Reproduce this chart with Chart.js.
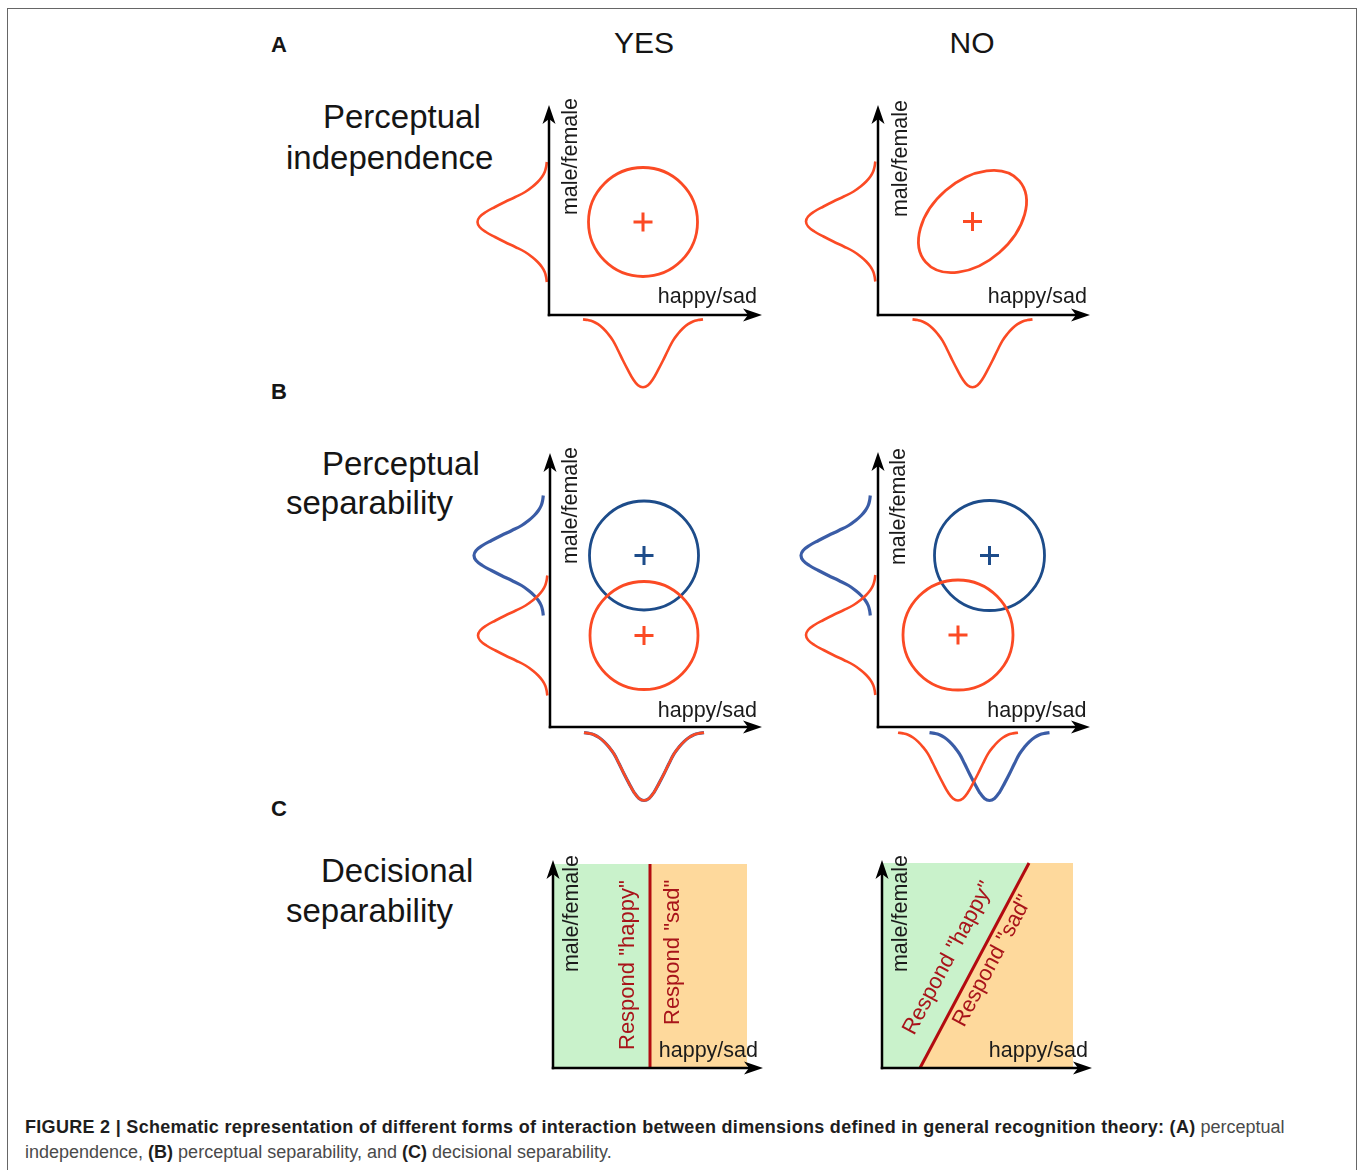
<!DOCTYPE html>
<html lang="en">
<head>
<meta charset="UTF-8">
<title>General recognition theory - schematic</title>
<script src="https://cdn.jsdelivr.net/npm/chart.js"></script>
<style>
  html, body { margin: 0; padding: 0; overflow: hidden; background: #fff; }
  body { width: 1357px; height: 1170px; position: relative; font-family: "Liberation Sans", Arial, sans-serif; color: #151515; }
  #frame { position: absolute; left: 7px; top: 8px; width: 1350px; height: 1200px; box-sizing: border-box; border: 1.5px solid #666; }
  .lbl { position: absolute; line-height: 1; white-space: nowrap; }
  .letter { font-size: 22px; font-weight: bold; left: 271px; }
  .head { font-size: 30px; width: 200px; text-align: center; }
  .row { font-size: 33px; }
  canvas { position: absolute; }
  #caption { position: absolute; left: 25px; top: 1115px; font-size: 18px; line-height: 25px; color: #4a4a4a; white-space: nowrap; }
  #caption b { color: #1e1e1e; }
  #caption b.lead { letter-spacing: 0.3px; }
</style>
</head>
<body>
<div id="frame"></div>

<div class="lbl letter" style="top:34px">A</div>
<div class="lbl letter" style="top:381px">B</div>
<div class="lbl letter" style="top:798px">C</div>

<div class="lbl head" style="left:544px; top:28px">YES</div>
<div class="lbl head" style="left:872px; top:28px">NO</div>

<div class="lbl row" style="left:323px; top:100px">Perceptual</div>
<div class="lbl row" style="left:286px; top:141px">independence</div>
<div class="lbl row" style="left:322px; top:447px">Perceptual</div>
<div class="lbl row" style="left:286px; top:486px">separability</div>
<div class="lbl row" style="left:321px; top:854px">Decisional</div>
<div class="lbl row" style="left:286px; top:894px">separability</div>

<div id="caption"><b class="lead">FIGURE 2 | Schematic representation of different forms of interaction between dimensions defined in general recognition theory: (A)</b> perceptual<br>independence, <b>(B)</b> perceptual separability, and <b>(C)</b> decisional separability.</div>

<script>
// bell-shaped marginal: offset along the axis and share of the peak depth
const bellOffset = [-6, -5.5, -5, -4.5, -4, -3.5, -3, -2.5, -2, -1.5, -1, -0.5, 0, 0.5, 1, 1.5, 2, 2.5, 3, 3.5, 4, 4.5, 5, 5.5, 6];
const bellShape  = [0.01, 0.02, 0.04, 0.08, 0.14, 0.22, 0.32, 0.46, 0.61, 0.75, 0.88, 0.97, 1, 0.97, 0.88, 0.75, 0.61, 0.46, 0.32, 0.22, 0.14, 0.08, 0.04, 0.02, 0.01];

// perceptual distributions (panels A and B), in axis units
const distPanel   = ['aYes', 'aNo', 'bYes', 'bYes', 'bNo', 'bNo'];
const distTone    = ['red', 'red', 'blue', 'red', 'blue', 'red'];
const distMeanX   = [9.4, 9.45, 9.4, 9.4, 11.15, 8.0];
const distMeanY   = [9.3, 9.35, 17.15, 9.15, 17.15, 9.2];
const distMajor   = [5.45, 6.2, 5.45, 5.4, 5.5, 5.5];
const distMinor   = [5.45, 4.1, 5.45, 5.4, 5.5, 5.5];
const distTilt    = [0, 41, 0, 0, 0, 0];
const leftFootX   = [-0.15, -0.2, -0.6, -0.2, -0.7, -0.2];
const bottomFootY = [-0.37, -0.37, -0.5, -0.5, -0.5, -0.5];
const leftDepth = 7.0;
const bottomDepth = 6.85;

// decision bounds (panel C)
const boundPanel   = ['cYes', 'cNo'];
const boundFootX   = [9.7, 3.8];
const boundTopX    = [9.7, 14.7];
const regionTopY   = [20.4, 20.5];
const regionRightX = [19.4, 19.1];
const respondText  = ['Respond "happy"', 'Respond "sad"'];

const axisNames = ['happy/sad', 'male/female'];

// layout: pixel origin of each panel's axes, plotted range, label anchors (axis units)
const UNIT = 10;
const panelLayout = [
  { id: 'aYes', left: 549, top: 315,  yMin: -8, yMax: 22,   xTip: 21.3, yTip: 21.0, xName: [20.8, 1.2],  yName: [2.8, 21.7] },
  { id: 'aNo',  left: 878, top: 315,  yMin: -8, yMax: 22,   xTip: 21.2, yTip: 21.0, xName: [20.9, 1.2],  yName: [2.85, 21.5] },
  { id: 'bYes', left: 550, top: 727,  yMin: -8, yMax: 28.5, xTip: 21.2, yTip: 27.4, xName: [20.7, 1.0],  yName: [2.7, 28.0] },
  { id: 'bNo',  left: 878, top: 727,  yMin: -8, yMax: 28.5, xTip: 21.2, yTip: 27.5, xName: [20.85, 1.0], yName: [2.7, 27.9] },
  { id: 'cYes', left: 553, top: 1068, yMin: -2, yMax: 22,   xTip: 21.0, yTip: 20.8, xName: [20.5, 1.13], yName: [2.5, 21.3] },
  { id: 'cNo',  left: 882, top: 1068, yMin: -2, yMax: 22,   xTip: 21.0, yTip: 20.8, xName: [20.6, 1.13], yName: [2.5, 21.3] }
];
const respondLayout = {
  cYes: [[8.1, 1.8, 90], [12.6, 4.3, 90]],
  cNo:  [[3.2, 3.2, 62], [8.2, 4.0, 62]]
};

const tones = { red: '#fb4a24', blue: '#1d4c8a' };
const curveTones = { red: '#fb4a24', blue: '#3a5ca6' };
const greenFill = '#c9f2cb';
const orangeFill = '#fed99c';
const boundRed = '#b30a10';
const labelFont = '21.5px "Liberation Sans", Arial, sans-serif';
const respondFont = '22px "Liberation Sans", Arial, sans-serif';

function arrow(ctx, x0, y0, x1, y1) {
    const len = Math.hypot(x1 - x0, y1 - y0);
    const ux = (x1 - x0) / len, uy = (y1 - y0) / len;
    const nx = -uy, ny = ux;
    ctx.beginPath();
    ctx.moveTo(x0 - ux * 1.25, y0 - uy * 1.25);
    ctx.lineTo(x1 - ux * 12, y1 - uy * 12);
    ctx.stroke();
    ctx.beginPath();
    ctx.moveTo(x1, y1);
    ctx.lineTo(x1 - ux * 19 + nx * 6.5, y1 - uy * 19 + ny * 6.5);
    ctx.lineTo(x1 - ux * 14, y1 - uy * 14);
    ctx.lineTo(x1 - ux * 19 - nx * 6.5, y1 - uy * 19 - ny * 6.5);
    ctx.closePath();
    ctx.fill();
}

function makeDecor(p) {
    return {
        id: 'grtDecor',
        beforeDatasetsDraw(chart) {
            const ctx = chart.ctx;
            const X = v => chart.scales.x.getPixelForValue(v);
            const Y = v => chart.scales.y.getPixelForValue(v);
            // equal-likelihood contours
            distPanel.forEach((panel, i) => {
                if (panel !== p.id) return;
                const cx = X(distMeanX[i]), cy = Y(distMeanY[i]);
                ctx.save();
                ctx.strokeStyle = tones[distTone[i]];
                ctx.lineWidth = 2.8;
                ctx.beginPath();
                ctx.ellipse(cx, cy, X(distMeanX[i] + distMajor[i]) - cx, X(distMeanX[i] + distMinor[i]) - cx,
                    -distTilt[i] * Math.PI / 180, 0, 2 * Math.PI);
                ctx.stroke();
                ctx.restore();
            });
        },
        afterDatasetsDraw(chart) {
            const ctx = chart.ctx;
            const X = v => chart.scales.x.getPixelForValue(v);
            const Y = v => chart.scales.y.getPixelForValue(v);
            ctx.save();
            ctx.strokeStyle = '#000';
            ctx.fillStyle = '#000';
            ctx.lineWidth = 2.5;
            arrow(ctx, X(0), Y(0), X(p.xTip), Y(0));
            arrow(ctx, X(0), Y(0), X(0), Y(p.yTip));

            ctx.fillStyle = '#1b1b1b';
            ctx.font = labelFont;
            ctx.textBaseline = 'alphabetic';
            ctx.textAlign = 'right';
            ctx.fillText(axisNames[0], X(p.xName[0]), Y(p.xName[1]));
            ctx.translate(X(p.yName[0]), Y(p.yName[1]));
            ctx.rotate(-Math.PI / 2);
            ctx.fillText(axisNames[1], 0, 0);
            ctx.restore();

            const rl = respondLayout[p.id];
            if (rl) {
                rl.forEach((r, k) => {
                    ctx.save();
                    ctx.fillStyle = '#a8141a';
                    ctx.font = respondFont;
                    ctx.textAlign = 'left';
                    ctx.textBaseline = 'alphabetic';
                    ctx.translate(X(r[0]), Y(r[1]));
                    ctx.rotate(-r[2] * Math.PI / 180);
                    ctx.fillText(respondText[k], 0, 0);
                    ctx.restore();
                });
            }
        }
    };
}

function buildDatasets(id) {
    const layers = [];   // back to front
    const b = boundPanel.indexOf(id);
    if (b >= 0) {
        layers.push({ data: [{ x: 0, y: regionTopY[b] }, { x: boundTopX[b], y: regionTopY[b] }],
            showLine: true, fill: 'origin', backgroundColor: greenFill, borderColor: 'transparent', borderWidth: 0, pointRadius: 0 });
        layers.push({ data: [{ x: boundFootX[b], y: 0 }, { x: boundTopX[b], y: regionTopY[b] }, { x: regionRightX[b], y: regionTopY[b] }],
            showLine: true, fill: 'origin', backgroundColor: orangeFill, borderColor: 'transparent', borderWidth: 0, pointRadius: 0 });
        layers.push({ data: [{ x: boundFootX[b], y: 0 }, { x: boundTopX[b], y: regionTopY[b] }],
            showLine: true, fill: false, borderColor: boundRed, borderWidth: 3, pointRadius: 0 });
    }
    distPanel.forEach((panel, i) => {
        if (panel !== id) return;
        const tone = curveTones[distTone[i]];
        const w = distTone[i] === 'blue' ? 3.2 : 2.6;
        layers.push({
            data: bellOffset.map((o, k) => ({ x: leftFootX[i] - leftDepth * bellShape[k], y: distMeanY[i] + o })),
            showLine: true, fill: false, borderColor: tone, borderWidth: w, pointRadius: 0, tension: 0.4
        });
        layers.push({
            data: bellOffset.map((o, k) => ({ x: distMeanX[i] + o, y: bottomFootY[i] - bottomDepth * bellShape[k] })),
            showLine: true, fill: false, borderColor: tone, borderWidth: w, pointRadius: 0, tension: 0.4
        });
    });
    distPanel.forEach((panel, i) => {
        if (panel !== id) return;
        layers.push({
            data: [{ x: distMeanX[i], y: distMeanY[i] }],
            showLine: false, pointStyle: 'cross', pointRadius: 9.5, pointBorderWidth: 3,
            borderColor: tones[distTone[i]], pointBorderColor: tones[distTone[i]]
        });
    });
    return layers.map((d, i) => Object.assign(d, { order: layers.length - i }));
}

panelLayout.forEach(p => {
    const xMin = -8, xMax = 22;
    const canvas = document.createElement('canvas');
    canvas.width = (xMax - xMin) * UNIT;
    canvas.height = Math.round((p.yMax - p.yMin) * UNIT);
    canvas.style.left = (p.left + xMin * UNIT) + 'px';
    canvas.style.top = (p.top - p.yMax * UNIT) + 'px';
    document.body.appendChild(canvas);

    new Chart(canvas.getContext('2d'), {
        type: 'scatter',
        data: { datasets: buildDatasets(p.id) },
        options: {
            responsive: false,
            animation: false,
            events: [],
            layout: { padding: 0, autoPadding: false },
            plugins: { legend: { display: false }, tooltip: { enabled: false } },
            scales: {
                x: { type: 'linear', display: false, min: xMin, max: xMax },
                y: { type: 'linear', display: false, min: p.yMin, max: p.yMax }
            }
        },
        plugins: [makeDecor(p)]
    });
});
</script>
</body>
</html>
